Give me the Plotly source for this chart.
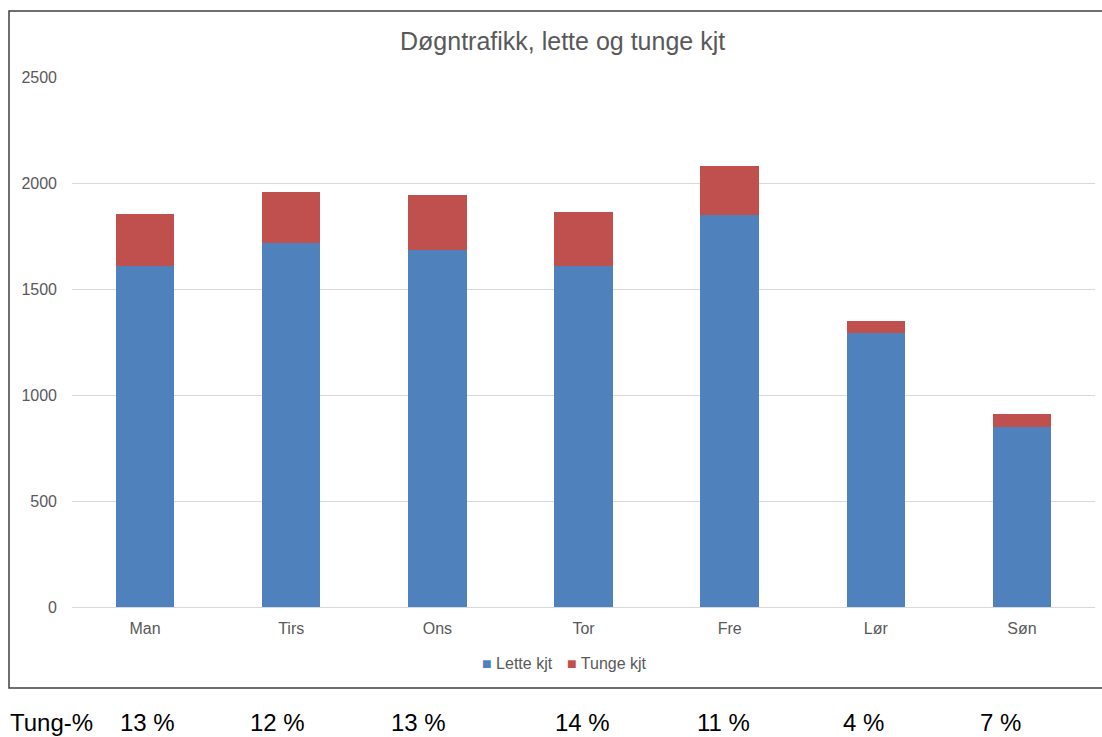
import plotly.graph_objects as go

# Daily traffic per weekday, split into light and heavy vehicles
days = ["Man", "Tirs", "Ons", "Tor", "Fre", "Lør", "Søn"]
lette_kjt = [1609, 1715, 1685, 1609, 1849, 1292, 848]
tunge_kjt = [246, 243, 258, 256, 233, 57, 61]
tung_pct_labels = ["13 %", "12 %", "13 %", "14 %", "11 %", "4 %", "7 %"]
y_ticks = [0, 500, 1000, 1500, 2000, 2500]

W, H = 1102, 737
FONT = "Arial, Liberation Sans, sans-serif"
GREY = "#595959"
BLUE = "#4F81BD"
RED = "#C0504D"


def px_x(x):
    return x / W


def px_y(y):
    return 1 - y / H


fig = go.Figure()
fig.add_trace(go.Bar(x=days, y=lette_kjt, name="Lette kjt", marker_color=BLUE,
                     marker_line_width=0))
fig.add_trace(go.Bar(x=days, y=tunge_kjt, name="Tunge kjt", marker_color=RED,
                     marker_line_width=0))

annotations = [
    dict(text="Døgntrafikk, lette og tunge kjt", x=px_x(562), y=px_y(41),
         xref="paper", yref="paper", showarrow=False, xanchor="center", yanchor="middle",
         font=dict(family=FONT, size=25, color=GREY)),
    dict(text=f"<span style='color:{BLUE}'>■</span> Lette kjt", x=px_x(480), y=px_y(663),
         xref="paper", yref="paper", showarrow=False, xanchor="left", yanchor="middle",
         font=dict(family=FONT, size=16, color=GREY)),
    dict(text=f"<span style='color:{RED}'>■</span> Tunge kjt", x=px_x(565), y=px_y(663),
         xref="paper", yref="paper", showarrow=False, xanchor="left", yanchor="middle",
         font=dict(family=FONT, size=16, color=GREY)),
    dict(text="Tung-%", x=px_x(8), y=px_y(722),
         xref="paper", yref="paper", showarrow=False, xanchor="left", yanchor="middle",
         font=dict(family=FONT, size=24, color="#000000")),
]

# Heavy-vehicle share row under the chart
pct_centers = [147, 277, 418, 582, 723, 863, 1000]
for cx, lab in zip(pct_centers, tung_pct_labels):
    annotations.append(dict(text=lab, x=px_x(cx), y=px_y(722), xref="paper", yref="paper",
                            showarrow=False, xanchor="center", yanchor="middle",
                            font=dict(family=FONT, size=24, color="#000000")))

fig.update_layout(
    width=W, height=H,
    margin=dict(l=0, r=0, t=0, b=0, pad=0, autoexpand=False),
    paper_bgcolor="white", plot_bgcolor="white",
    barmode="stack", bargap=0.6,
    showlegend=False,
    font=dict(family=FONT, size=16, color=GREY),
    xaxis=dict(domain=[px_x(72), px_x(1095)], showgrid=False, showline=False,
               ticks="", tickfont=dict(size=16, color=GREY), ticklabelstandoff=10,
               automargin=False, fixedrange=True),
    yaxis=dict(domain=[px_y(607), px_y(77)], range=[0, 2500], tickvals=y_ticks,
               showgrid=True, gridcolor="#D9D9D9", gridwidth=1,
               zeroline=True, zerolinecolor="#D9D9D9", zerolinewidth=1,
               ticks="", tickfont=dict(size=16, color=GREY), ticklabelstandoff=14,
               automargin=False, fixedrange=True),
    annotations=annotations,
    shapes=[dict(type="rect", xref="paper", yref="paper",
                 x0=px_x(9), x1=px_x(1120), y0=px_y(688), y1=px_y(11),
                 line=dict(color="#404040", width=1.5), fillcolor="rgba(0,0,0,0)",
                 layer="below")],
)

fig.write_html("out.html")
